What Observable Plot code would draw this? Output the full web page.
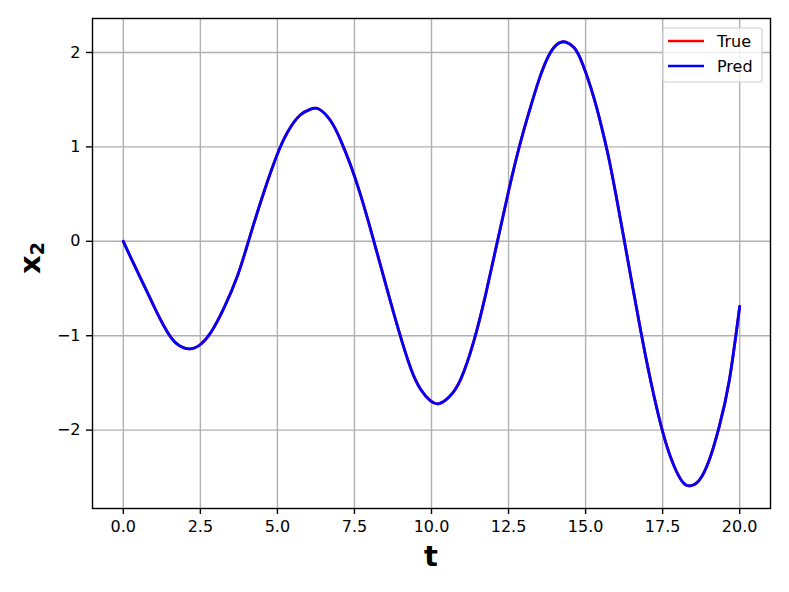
<!DOCTYPE html>
<html>
<head>
<meta charset="utf-8">
<script src="https://cdn.jsdelivr.net/npm/d3@7"></script>
<script src="https://cdn.jsdelivr.net/npm/@observablehq/plot@0.6"></script>
<style>
  html, body { margin: 0; padding: 0; background: #fff; }
  #chart svg { display: block; }
</style>
</head>
<body>
<div id="chart"></div>
<script>
const tValues = [0, 0.34, 0.78, 1.10, 1.43, 1.75, 2.15, 2.51, 2.85, 3.26, 3.70, 4.06, 4.56, 5.07, 5.43, 5.75, 6.08, 6.35, 6.72, 7.04, 7.37, 7.69, 7.96, 8.13, 8.35, 8.62, 8.95, 9.32, 9.65, 9.97, 10.24, 10.57, 10.95, 11.38, 11.76, 12.14, 12.52, 12.88, 13.22, 13.54, 13.86, 14.14, 14.36, 14.63, 14.90, 15.27, 15.55, 15.76, 15.98, 16.26, 16.52, 16.79, 17.12, 17.52, 17.87, 18.15, 18.39, 18.69, 19.01, 19.33, 19.66, 20.00];
const trueX2 = [0, -0.24, -0.54, -0.76, -0.96, -1.09, -1.14, -1.09, -0.96, -0.71, -0.37, 0, 0.52, 0.98, 1.21, 1.34, 1.40, 1.40, 1.28, 1.08, 0.81, 0.50, 0.20, 0, -0.26, -0.58, -0.96, -1.34, -1.57, -1.69, -1.72, -1.65, -1.46, -1.05, -0.56, 0, 0.56, 1.04, 1.43, 1.76, 2.00, 2.10, 2.11, 2.05, 1.88, 1.52, 1.17, 0.87, 0.50, 0, -0.47, -0.95, -1.49, -2.04, -2.38, -2.55, -2.59, -2.53, -2.32, -1.97, -1.48, -0.69];
const predX2 = [0, -0.24, -0.54, -0.76, -0.96, -1.09, -1.14, -1.09, -0.96, -0.71, -0.37, 0, 0.52, 0.98, 1.21, 1.34, 1.40, 1.40, 1.28, 1.08, 0.81, 0.50, 0.20, 0, -0.26, -0.58, -0.96, -1.34, -1.57, -1.69, -1.72, -1.65, -1.46, -1.05, -0.56, 0, 0.56, 1.04, 1.43, 1.76, 2.00, 2.10, 2.11, 2.05, 1.88, 1.52, 1.17, 0.87, 0.50, 0, -0.47, -0.95, -1.49, -2.04, -2.38, -2.55, -2.59, -2.53, -2.32, -1.97, -1.48, -0.69];
const xTicks = [0, 2.5, 5, 7.5, 10, 12.5, 15, 17.5, 20];
const yTicks = [-2, -1, 0, 1, 2];
const seriesNames = ["True", "Pred"];
const seriesColors = ["#ff0000", "#0000ff"];

const trueData = tValues.map((t, i) => ({t, v: trueX2[i]}));
const predData = tValues.map((t, i) => ({t, v: predX2[i]}));

const W = 789, H = 592;
const mL = 92, mR = 19, mT = 18, mB = 84;
const gridColor = "#b0b0b0";
const fmtY = d => d < 0 ? "\u2212" + Math.abs(d) : String(d);

const chart = Plot.plot({
  width: W,
  height: H,
  marginLeft: mL,
  marginRight: mR,
  marginTop: mT,
  marginBottom: mB,
  style: {fontFamily: "DejaVu Sans, sans-serif", fontSize: "16px", color: "#000", background: "#fff"},
  x: {domain: [-1, 21]},
  y: {domain: [-2.83, 2.36]},
  marks: [
    Plot.gridX(xTicks, {stroke: gridColor, strokeOpacity: 1, strokeWidth: 1.4}),
    Plot.gridY(yTicks, {stroke: gridColor, strokeOpacity: 1, strokeWidth: 1.4}),
    Plot.line(trueData, {x: "t", y: "v", stroke: seriesColors[0], strokeWidth: 2.8, curve: "natural"}),
    Plot.line(predData, {x: "t", y: "v", stroke: seriesColors[1], strokeWidth: 2.8, curve: "natural"}),
    Plot.frame({stroke: "#000", strokeWidth: 1.4}),
    Plot.axisX(xTicks, {tickSize: 6, tickPadding: 6, tickFormat: d => d.toFixed(1), label: null, fontSize: 16, strokeWidth: 1.4}),
    Plot.axisY(yTicks, {tickSize: 6, tickPadding: 6, tickFormat: fmtY, label: null, fontSize: 16, strokeWidth: 1.4})
  ]
});
document.getElementById("chart").appendChild(chart);

const svg = d3.select(chart);
const plotRight = W - mR;
const plotCx = (mL + W - mR) / 2;
const plotCy = (mT + H - mB) / 2;

// x label
svg.append("text")
  .attr("x", plotCx)
  .attr("y", H - mB + 58)
  .attr("text-anchor", "middle")
  .attr("font-family", "DejaVu Sans, sans-serif")
  .attr("font-weight", "bold")
  .attr("font-size", 29)
  .attr("fill", "#000")
  .text("t");

// y label x_2
const yl = svg.append("text")
  .attr("transform", `translate(40,${plotCy - 5}) rotate(-90)`)
  .attr("text-anchor", "middle")
  .attr("font-family", "DejaVu Sans, sans-serif")
  .attr("font-weight", "bold")
  .attr("font-size", 29)
  .attr("fill", "#000");
yl.append("tspan").text("x");
yl.append("tspan").attr("font-size", 19).attr("dy", 4).text("2");

// legend
const lg = svg.append("g");
const lgW = 99, lgH = 54;
const lgX = plotRight - 8 - lgW, lgY = mT + 10;
lg.append("rect")
  .attr("x", lgX).attr("y", lgY).attr("width", lgW).attr("height", lgH)
  .attr("rx", 3).attr("fill", "#fff").attr("fill-opacity", 0.8)
  .attr("stroke", "#d0d0d0").attr("stroke-width", 1.2);
seriesNames.forEach((name, i) => {
  const cy = lgY + 13 + i * 25;
  lg.append("line")
    .attr("x1", lgX + 5).attr("x2", lgX + 41)
    .attr("y1", cy).attr("y2", cy)
    .attr("stroke", seriesColors[i]).attr("stroke-width", 2.6);
  lg.append("text")
    .attr("x", lgX + 54).attr("y", cy + 6)
    .attr("text-anchor", "start")
    .attr("font-family", "DejaVu Sans, sans-serif")
    .attr("font-size", 16)
    .attr("fill", "#000")
    .text(name);
});
</script>
</body>
</html>
